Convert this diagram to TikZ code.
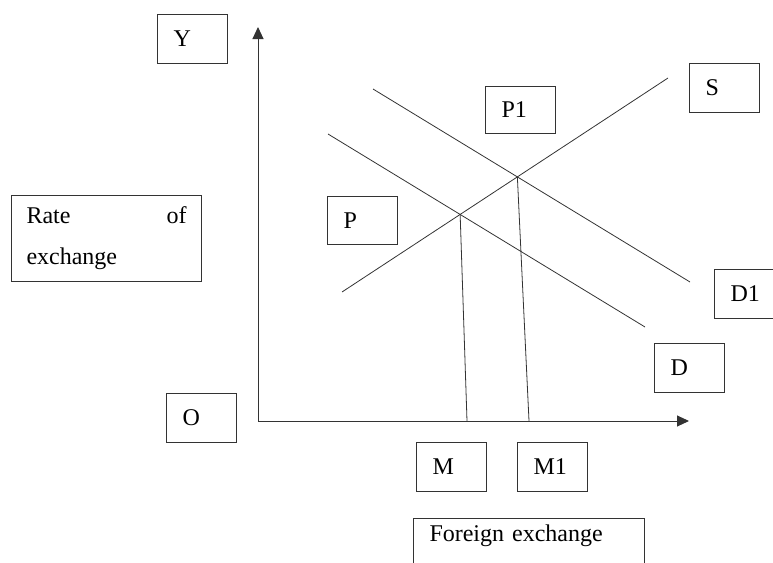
\documentclass[tikz,border=0pt]{standalone}
\usepackage{fontspec}
\setmainfont{Liberation Serif}
\usetikzlibrary{arrows.meta}
\begin{document}
\begin{tikzpicture}[x=1pt,y=-1pt,
  ln/.style={line width=0.8pt,draw=black!80},
  ax/.style={line width=1pt,draw=black!80,-{Triangle[length=12pt,width=11pt]}},
  lbl/.style={draw=black!80,line width=1pt,anchor=north west,minimum height=49pt,
    text width=38pt,inner xsep=16pt,inner ysep=0pt,align=left,
    font=\fontsize{24}{28}\selectfont},
]
\useasboundingbox (0,0) rectangle (773,562);
\clip (0,0) rectangle (773,562);
% axes
\coordinate (o) at (258,421);
\coordinate (ytip) at (258,27);
\coordinate (xtip) at (689,421);
\draw[ax] (o) -- (ytip);
\draw[ax] (o) -- (xtip);
% curves
\coordinate (s1) at (342,292);
\coordinate (s2) at (668,78);
\coordinate (d1) at (328,134);
\coordinate (d2) at (645,327);
\coordinate (e1) at (373,89);
\coordinate (e2) at (690,282);
\draw[ln] (s1) -- (s2);
\draw[ln] (d1) -- (d2);
\draw[ln] (e1) -- (e2);
\coordinate (pa) at (intersection of s1--s2 and d1--d2);
\coordinate (pb) at (intersection of s1--s2 and e1--e2);
\coordinate (m) at (467,421);
\coordinate (mm) at (529,421);
\draw[ln] (pa) -- (m);
\draw[ln] (pb) -- (mm);
% labels
\node[lbl] (Y) at (157,14) {Y};
\node[lbl] (O) at (166,393) {O};
\node[lbl,minimum height=48pt] (P) at (327,196) {P};
\node[lbl,minimum height=47pt] (P1) at (485,86) {P1};
\node[lbl] (S) at (689,63) {S};
\node[lbl] (D1) at (714,269) {D1};
\node[lbl] (D) at (654,343) {D};
\node[lbl] (M) at (416,442) {M};
\node[lbl,minimum width=70pt] (M1) at (517,442) {M1};
\node[lbl,text width=160pt,inner xsep=15pt,minimum height=86pt,
  font=\fontsize{24}{41}\selectfont] (rate) at (11,195)
  {\makebox[\linewidth][s]{Rate\hfill of}\\exchange};
\node[lbl,text width=199pt,minimum height=70pt,anchor=north west,
  inner ysep=0pt,text depth=40pt] (fx) at (413,518) {Foreign exchange};
\end{tikzpicture}
\end{document}
